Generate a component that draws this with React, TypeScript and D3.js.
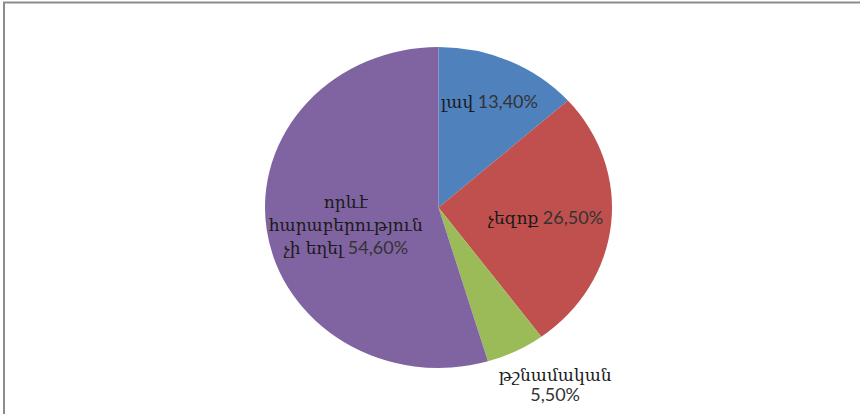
import React from "react";
import * as d3 from "d3";

// slices, clockwise from 12 o'clock
const names = ["լավ", "չեզոք", "թշնամական", "որևէ հարաբերություն չի եղել"];
const shares = [13.4, 26.5, 5.5, 54.6];
const valueLabels = ["13,40%", "26,50%", "5,50%", "54,60%"];
const colors = ["#4F81BD", "#C0504D", "#9BBB59", "#8064A2"];

const width = 860;
const height = 414;
const cx = 438.5;
const cy = 207.5;
const radius = 160.5;
const stretch = 1.081; // pie is drawn a bit wider than tall

const armFont = "'DejaVu Serif', serif";
const numFont = "Lato, 'Open Sans', sans-serif";

const App = () => {
    const pie = d3
        .pie<number>()
        .sort(null)
        .value((d) => d);
    const arcs = pie(shares);
    const arc = d3
        .arc<d3.PieArcDatum<number>>()
        .innerRadius(0)
        .outerRadius(radius);

    // where each label sits, as a fraction of the radius
    const labelRadius = [0.72, 0.62, 1.25, 0.54];
    const labelPos = arcs.map((a, i) => {
        const mid = (a.startAngle + a.endAngle) / 2;
        const r = radius * labelRadius[i];
        return [cx + Math.sin(mid) * r * stretch, cy - Math.cos(mid) * r];
    });

    const num = (i: number, lead: string) => (
        <tspan fontFamily={numFont} fontSize={18} fill="#333">{lead + valueLabels[i]}</tspan>
    );

    const renderLabel = (i: number) => {
        const [x, y] = labelPos[i];
        if (i === 3) {
            const words = names[i].split(" ");
            return (
                <text key={i} x={x} y={y} textAnchor="middle" fontSize={17} fill="#1a1a1a">
                    <tspan x={x} dy={-23 + 11} fontFamily={armFont}>{words[0]}</tspan>
                    <tspan x={x} dy={23} fontFamily={armFont}>{words[1]}</tspan>
                    <tspan x={x} dy={23} fontFamily={armFont}>{words[2] + " " + words[3]}</tspan>
                    {num(i, " ")}
                </text>
            );
        }
        if (i === 2) {
            // outside label, nudged right of the slice
            const lx = x + 20;
            return (
                <text key={i} x={lx} y={y} textAnchor="middle" fontSize={17} fill="#1a1a1a">
                    <tspan x={lx} dy={-10 + 4} fontFamily={armFont}>{names[i]}</tspan>
                    <tspan x={lx} dy={20} fontFamily={numFont} fontSize={18} fill="#333">{valueLabels[i]}</tspan>
                </text>
            );
        }
        return (
            <text key={i} x={x} y={y + 6} textAnchor="middle" fontSize={17} fill="#1a1a1a">
                <tspan fontFamily={armFont}>{names[i]}</tspan>
                {num(i, " ")}
            </text>
        );
    };

    return (
        <svg
            width={width}
            height={height}
            style={{ position: "absolute", left: 0, top: 0, background: "#fff" }}
        >
            <path d={`M4,${height} V2.5 H${width}`} fill="none" stroke="#8c8c8c" strokeWidth={2} />
            <g transform={`translate(${cx},${cy}) scale(${stretch},1)`}>
                {arcs.map((a, i) => (
                    <path key={i} d={arc(a) || ""} fill={colors[i]} />
                ))}
            </g>
            {arcs.map((_, i) => renderLabel(i))}
        </svg>
    );
};

export default App;
